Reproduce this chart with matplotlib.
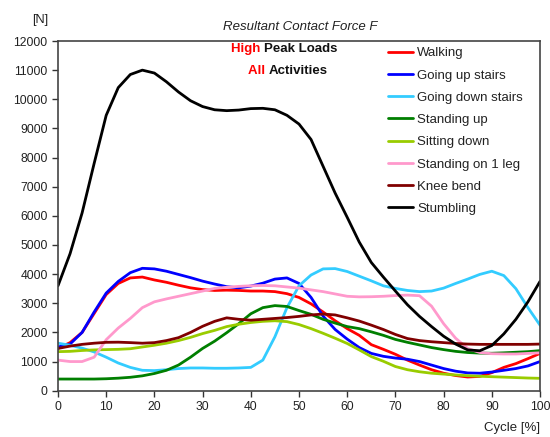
import numpy as np
import matplotlib
matplotlib.use("Agg")
from matplotlib import pyplot as plt

plt.rcParams['font.family'] = ['Liberation Sans', 'DejaVu Sans']

# cycle [%] sampled every 2.5
cycle = np.arange(0, 100.1, 2.5)

walking = [1450, 1650, 2000, 2650, 3300, 3680, 3870, 3900, 3800, 3720, 3620,
           3530, 3470, 3440, 3450, 3440, 3420, 3420, 3400, 3330, 3200, 2980,
           2700, 2400, 2130, 1900, 1580, 1420, 1250, 1050, 880, 720, 600, 520,
           470, 490, 620, 800, 930, 1100, 1280]
up_stairs = [1500, 1600, 2000, 2700, 3350, 3750, 4050, 4200, 4180, 4100, 3990,
             3880, 3760, 3660, 3570, 3530, 3590, 3690, 3830, 3870, 3680, 3200,
             2560, 2100, 1770, 1480, 1280, 1180, 1120, 1080, 1000, 880, 760,
             670, 610, 600, 640, 700, 760, 850, 1000]
down_stairs = [1630, 1560, 1460, 1330, 1150, 950, 800, 700, 690, 720, 760,
               780, 780, 770, 770, 780, 800, 1050, 1850, 2850, 3600, 3970,
               4180, 4190, 4090, 3930, 3770, 3600, 3510, 3440, 3400, 3420,
               3520, 3680, 3830, 3990, 4100, 3950, 3500, 2850, 2250]
standing_up = [400, 400, 400, 400, 410, 430, 460, 510, 590, 700, 880, 1150,
               1450, 1700, 1990, 2300, 2640, 2850, 2920, 2890, 2750, 2620,
               2450, 2320, 2200, 2130, 2020, 1900, 1760, 1660, 1570, 1480,
               1410, 1350, 1310, 1290, 1285, 1300, 1320, 1340, 1375]
sitting_down = [1340, 1350, 1380, 1400, 1410, 1420, 1440, 1500, 1560, 1630,
                1720, 1830, 1960, 2070, 2200, 2280, 2340, 2380, 2400, 2370,
                2270, 2130, 1970, 1800, 1620, 1400, 1170, 1010, 830, 720, 650,
                600, 570, 540, 515, 495, 480, 465, 450, 435, 425]
one_leg = [1050, 1000, 1000, 1150, 1750, 2150, 2480, 2850, 3050, 3150, 3240,
           3330, 3420, 3510, 3550, 3580, 3600, 3610, 3600, 3560, 3520, 3460,
           3400, 3320, 3240, 3220, 3225, 3240, 3265, 3280, 3260, 2900, 2300,
           1800, 1450, 1310, 1270, 1260, 1260, 1280, 1300]
knee_bend = [1450, 1530, 1590, 1630, 1660, 1665, 1650, 1630, 1650, 1720, 1820,
             2000, 2210, 2380, 2500, 2450, 2420, 2450, 2480, 2510, 2550, 2600,
             2630, 2600, 2500, 2390, 2250, 2100, 1930, 1790, 1720, 1680, 1650,
             1620, 1600, 1590, 1590, 1590, 1590, 1590, 1600]
stumbling = [3600, 4700, 6100, 7800, 9450, 10400, 10850, 11000, 10900, 10600,
             10250, 9950, 9750, 9640, 9610, 9630, 9680, 9690, 9640, 9450, 9150,
             8620, 7700, 6780, 5950, 5100, 4400, 3900, 3420, 2950, 2550, 2200,
             1870, 1600, 1400, 1370, 1550, 1950, 2450, 3050, 3750]

labels = ["Walking", "Going up stairs", "Going down stairs", "Standing up",
          "Sitting down", "Standing on 1 leg", "Knee bend", "Stumbling"]
colors = ["#ff0000", "#0000ff", "#33ccff", "#007f00",
          "#99cc00", "#ff99cc", "#800000", "#000000"]
series = [walking, up_stairs, down_stairs, standing_up,
          sitting_down, one_leg, knee_bend, stumbling]

fig = plt.figure(figsize=(5.5, 4.37), dpi=100)
ax = fig.add_axes([58 / 550, 1 - 390.7 / 437, 482 / 550, 349.7 / 437])

for y, lab, col in zip(series, labels, colors):
    ax.plot(cycle, y, color=col, lw=2.0, label=lab,
            solid_joinstyle='round', solid_capstyle='round')

ax.set_xlim(0, 100)
ax.set_ylim(0, 12000)
ax.set_xticks(np.arange(0, 101, 10))
ax.set_yticks(np.arange(0, 12001, 1000))
ax.tick_params(direction='out', length=4, width=1, labelsize=8.7,
               colors='#333333', labelcolor='#222222')
for s in ax.spines.values():
    s.set_color('#444444')
    s.set_linewidth(1.2)

fig.text(48 / 550, 1 - 20 / 437, "[N]", ha='right', va='center',
         fontsize=9.2, color='#222222')
fig.text(540 / 550, 1 - 428 / 437, "Cycle [%]", ha='right', va='center',
         fontsize=9.5, color='#222222')
fig.text(300 / 550, 1 - 27 / 437, "Resultant Contact Force F", ha='center',
         va='center', fontsize=9.5, style='italic', color='#222222')

# two-colour heading inside the plot
fig.text(264 / 550, 1 - 49 / 437, "High ", ha='right', va='center',
         fontsize=9.5, weight='bold', color='#ff0000')
fig.text(264 / 550, 1 - 49 / 437, "Peak Loads", ha='left', va='center',
         fontsize=9.5, weight='bold', color='#111111')
fig.text(269 / 550, 1 - 71 / 437, "All ", ha='right', va='center',
         fontsize=9.5, weight='bold', color='#ff0000')
fig.text(269 / 550, 1 - 71 / 437, "Activities", ha='left', va='center',
         fontsize=9.5, weight='bold', color='#111111')

leg = ax.legend(loc='upper left', bbox_to_anchor=(388 / 550, 1 - 47 / 437),
                bbox_transform=fig.transFigure, frameon=False, fontsize=9.5,
                handlelength=1.9, handletextpad=0.3, labelspacing=0.76,
                borderpad=0, borderaxespad=0)
for t in leg.get_texts():
    t.set_color('#222222')

fig.savefig("out.png", dpi=100)
